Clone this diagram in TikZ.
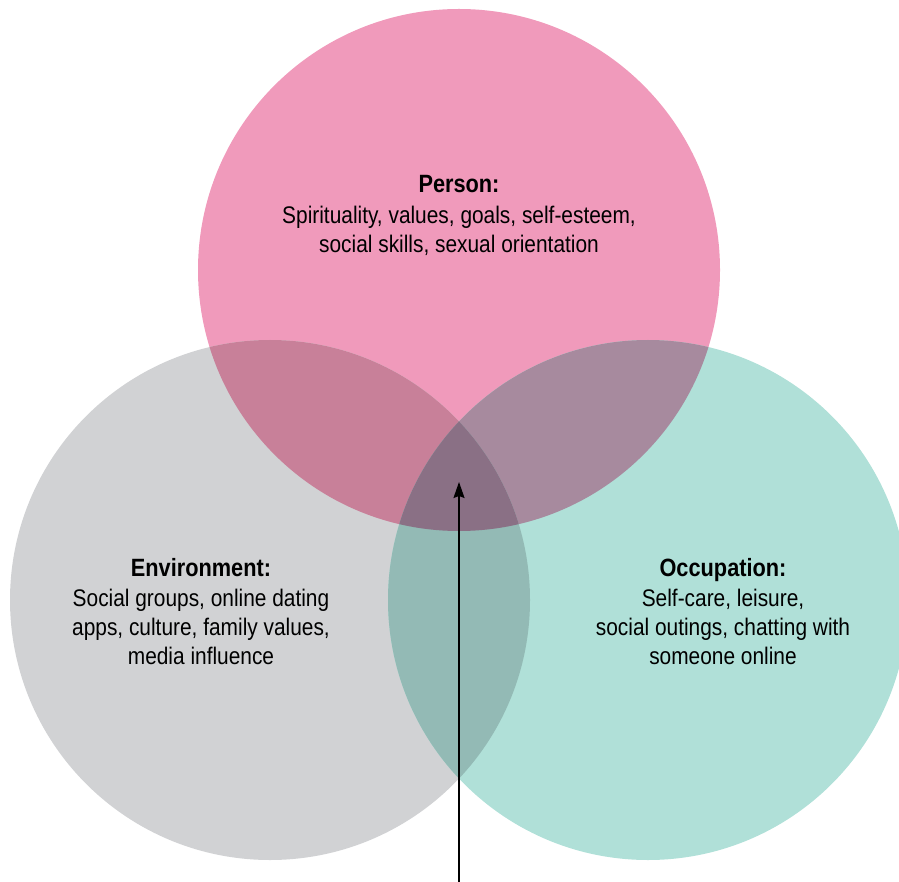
\documentclass[tikz,border=0pt]{standalone}
\usepackage{fontspec}
\setmainfont{Liberation Sans}[FakeStretch=0.87]
\usetikzlibrary{arrows.meta}
\definecolor{pinkP}{HTML}{F09ABB}
\definecolor{grayE}{HTML}{D1D2D4}
\definecolor{tealO}{HTML}{B0E0D8}
\definecolor{PE}{HTML}{C88099}
\definecolor{PO}{HTML}{A78A9E}
\definecolor{EO}{HTML}{93BAB5}
\definecolor{PEO}{HTML}{8A7085}
\tikzset{
  lbl/.style={anchor=base, inner sep=0pt, font=\fontsize{24}{28}\selectfont},
  head/.style={lbl, font=\fontsize{25}{28}\selectfont\bfseries},
}
\begin{document}
\begin{tikzpicture}[x=1pt,y=-1pt]
\useasboundingbox (0,0) rectangle (899,882);
\begin{scope}
\clip (0,0) rectangle (899,882);
\def\Pc{(459,270) circle[radius=261]}
\def\Ec{(270,600) circle[radius=260]}
\def\Oc{(648,600) circle[radius=260]}
\fill[pinkP] \Pc;
\fill[grayE] \Ec;
\fill[tealO] \Oc;
\begin{scope}\clip \Pc; \fill[PE] \Ec;\end{scope}
\begin{scope}\clip \Pc; \fill[PO] \Oc;\end{scope}
\begin{scope}\clip \Ec; \fill[EO] \Oc;\end{scope}
\begin{scope}\clip \Pc; \clip \Ec; \fill[PEO] \Oc;\end{scope}
\end{scope}
% Person
\node[head] (p1) at (459,193) {Person:};
\node[lbl] (p2) at (459,224) {Spirituality, values, goals, self-esteem,};
\node[lbl] (p3) at (459,253) {social skills, sexual orientation};
% Environment
\node[head] (e1) at (201,576) {Environment:};
\node[lbl] (e2) at (201,606) {Social groups, online dating};
\node[lbl] (e3) at (201,635) {apps, culture, family values,};
\node[lbl] (e4) at (201,664) {media influence};
% Occupation
\node[head] (o1) at (723,576) {Occupation:};
\node[lbl] (o2) at (723,606) {Self-care, leisure,};
\node[lbl] (o3) at (723,635) {social outings, chatting with};
\node[lbl] (o4) at (723,664) {someone online};
% arrow
\coordinate (foot) at (459,882);
\coordinate (tip) at (459,482);
\draw[line width=1.5pt, -{Stealth[length=16pt,width=11pt,inset=2pt]}] (foot) -- (tip);
\end{tikzpicture}
\end{document}
